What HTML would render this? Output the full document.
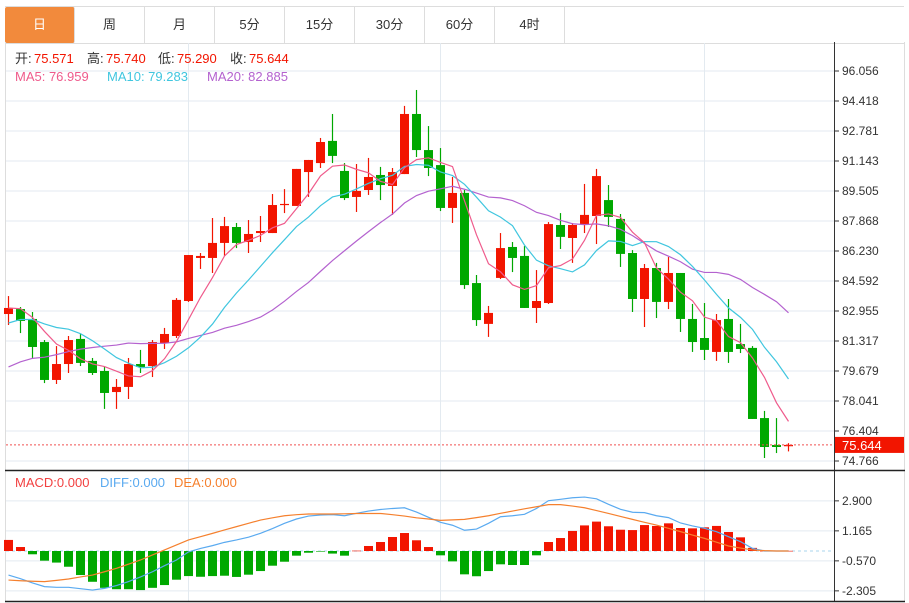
<!DOCTYPE html>
<html><head><meta charset="utf-8">
<style>
html,body{margin:0;padding:0;background:#fff;}
body{width:909px;height:603px;overflow:hidden;font-family:"Liberation Sans","Noto Sans CJK SC",sans-serif;}
.tabs{position:absolute;left:5px;top:6px;height:36px;width:899px;border-top:1px solid #ddd;border-bottom:1px solid #ddd;}
.tab{position:absolute;top:0;height:36px;width:70px;line-height:36px;text-align:center;font-size:13px;color:#333;border-right:1px solid #ddd;box-sizing:border-box;}
.tab.active{background:#f28a3c;color:#fff;border-radius:2px;}
svg{position:absolute;left:0;top:0;}
</style></head><body>
<div class="tabs">
<div class="tab active" style="left:0">日</div>
<div class="tab" style="left:70px">周</div>
<div class="tab" style="left:140px">月</div>
<div class="tab" style="left:210px">5分</div>
<div class="tab" style="left:280px">15分</div>
<div class="tab" style="left:350px">30分</div>
<div class="tab" style="left:420px">60分</div>
<div class="tab" style="left:490px">4时</div>
</div>
<svg id="chart" width="909" height="603"></svg>
<script>
const opens=[82.79,83.06,82.52,81.26,79.19,80.06,81.43,80.23,79.68,78.53,78.81,80.06,79.95,81.21,81.59,83.50,85.85,85.85,86.67,87.54,86.72,87.21,87.21,88.74,88.69,90.54,91.03,92.24,90.60,89.18,89.56,90.38,89.78,90.43,93.71,91.74,90.92,88.58,89.40,84.48,82.25,84.76,86.45,85.96,83.12,83.39,87.65,86.94,87.70,88.14,89.01,87.98,86.12,83.61,85.30,83.45,85.03,82.52,81.48,80.72,82.52,81.15,80.94,77.11,75.64,75.571];
const closes=[83.12,82.41,80.99,79.19,80.06,81.37,80.12,79.57,78.48,78.81,80.06,79.90,81.26,81.70,83.56,86.01,85.96,86.67,87.59,86.67,87.16,87.32,88.74,88.80,90.71,91.20,92.18,91.42,89.12,89.51,90.27,89.83,90.54,93.71,91.74,90.76,88.58,89.40,84.37,82.46,82.85,86.39,85.85,83.12,83.50,87.70,87.00,87.65,88.20,90.32,88.09,86.07,83.61,85.30,83.45,85.03,82.52,81.26,80.83,82.46,80.72,80.88,77.06,75.53,75.53,75.644];
const highs=[83.77,83.17,82.90,81.37,81.04,81.59,81.70,80.39,79.90,79.24,80.39,80.83,81.37,82.03,83.66,86.01,86.12,88.03,88.09,87.76,87.92,88.14,89.34,89.61,90.71,91.20,92.40,93.71,91.03,90.98,91.31,90.82,90.76,94.15,95.02,93.05,91.85,90.27,89.56,84.92,83.23,87.21,86.72,86.50,85.19,87.81,88.30,87.76,89.89,90.71,89.83,88.25,86.28,85.52,85.58,85.90,85.03,83.34,83.39,82.79,83.61,82.25,81.04,77.50,77.11,75.740];
const lows=[82.19,81.75,80.39,79.02,78.97,79.57,79.95,79.46,77.61,77.61,78.15,79.57,79.35,80.88,81.48,83.45,85.25,85.03,85.96,86.39,86.12,86.72,87.21,88.30,88.69,89.18,90.76,91.03,89.01,88.36,89.29,89.01,88.20,90.43,91.36,90.32,88.41,87.76,84.16,82.14,81.54,84.70,85.08,83.12,82.30,83.34,86.34,85.58,87.21,86.61,87.54,85.36,82.90,82.08,82.57,83.06,81.81,80.72,80.28,80.23,80.12,80.66,77.06,74.93,75.20,75.290];
const priorCloses=[76.8,77.2,77.9,77.3,78.0,77.5,77.8,77.0,77.6,77.9,80.5,81.0,81.6,82.0,82.3,82.6,83.4,83.0,83.48];
const priceTicks=[96.056,94.418,92.781,91.143,89.505,87.868,86.230,84.592,82.955,81.317,79.679,78.041,76.404,74.766];
const macdHist=[0.64,0.23,-0.19,-0.56,-0.67,-0.91,-1.39,-1.78,-2.13,-2.21,-2.21,-2.26,-2.13,-1.97,-1.66,-1.45,-1.49,-1.45,-1.43,-1.50,-1.37,-1.16,-0.85,-0.62,-0.27,-0.10,-0.01,-0.15,-0.27,0.02,0.29,0.52,0.81,1.04,0.62,0.23,-0.25,-0.60,-1.35,-1.46,-1.16,-0.77,-0.81,-0.81,-0.25,0.52,0.75,1.16,1.48,1.70,1.43,1.23,1.21,1.50,1.45,1.60,1.33,1.31,1.37,1.45,1.10,0.79,0.18,0.01,0.01,0.01];
const diffVals=[-1.39,-1.60,-1.85,-2.06,-2.10,-2.10,-2.18,-2.26,-2.16,-2.00,-1.77,-1.50,-1.20,-0.85,-0.52,-0.05,0.15,0.31,0.50,0.64,0.80,1.02,1.30,1.60,1.85,2.02,2.08,2.10,2.04,2.18,2.31,2.40,2.46,2.50,2.25,1.95,1.66,1.49,1.20,1.27,1.60,1.98,2.04,2.12,2.46,2.91,2.99,3.08,3.12,3.02,2.70,2.41,2.24,2.22,2.04,1.93,1.62,1.45,1.31,1.12,0.83,0.54,0.15,0,0,0];
const deaVals=[-1.68,-1.72,-1.75,-1.77,-1.70,-1.62,-1.50,-1.39,-1.20,-1.00,-0.76,-0.52,-0.23,0.06,0.35,0.64,0.83,1.02,1.22,1.41,1.60,1.79,1.92,2.04,2.10,2.14,2.14,2.14,2.15,2.17,2.17,2.17,2.10,2.02,1.92,1.85,1.77,1.80,1.83,1.93,2.04,2.18,2.31,2.44,2.56,2.68,2.68,2.60,2.50,2.34,2.17,2.00,1.83,1.66,1.50,1.31,1.12,0.92,0.73,0.51,0.29,0.17,0.06,0.02,0,0];
const macdTicks=[2.900,1.165,-0.570,-2.305];

const svg=document.getElementById('chart');
const NS='http://www.w3.org/2000/svg';
function mk(tag,attrs,parent){const e=document.createElementNS(NS,tag);for(const k in attrs)e.setAttribute(k,attrs[k]);(parent||svg).appendChild(e);return e;}
const L=6,R=834;
const xOf=i=>8.5+12*i;
const yP=p=>71+(96.056-p)*(390/(96.056-74.766));
const yM=v=>551-v*(30/1.735);

// grid
const grid=mk('g',{});


priceTicks.forEach(t=>{mk('line',{x1:L,x2:R,y1:yP(t),y2:yP(t),stroke:'#e3eaf0','stroke-width':1},grid);});
macdTicks.forEach(t=>{mk('line',{x1:L,x2:R,y1:yM(t),y2:yM(t),stroke:'#e3eaf0','stroke-width':1},grid);});
[188.5,440.5,704.5].forEach(x=>{mk('line',{x1:x,x2:x,y1:43,y2:601,stroke:'#e3eaf0','stroke-width':1},grid);});
// frame
mk('line',{x1:5.5,x2:5.5,y1:42,y2:601,stroke:'#ddd'});
mk('line',{x1:904.5,x2:904.5,y1:42,y2:601,stroke:'#ddd'});
mk('line',{x1:834.5,x2:834.5,y1:42,y2:601,stroke:'#333'});
mk('line',{x1:5,x2:905,y1:470.5,y2:470.5,stroke:'#222','stroke-width':1.5});
mk('line',{x1:5,x2:905,y1:601.5,y2:601.5,stroke:'#222','stroke-width':1.5});

// price axis
const axis=mk('g',{'font-size':12,fill:'#333','font-family':'Liberation Sans, sans-serif'});


priceTicks.forEach(t=>{const y=yP(t);mk('line',{x1:834,x2:839,y1:y,y2:y,stroke:'#333'},axis);const tx=mk('text',{x:842,y:y+4},axis);tx.textContent=t.toFixed(3);});
const maxis=mk('g',{'font-size':12,fill:'#333','font-family':'Liberation Sans, sans-serif'});


macdTicks.forEach(t=>{const y=yM(t);mk('line',{x1:834,x2:839,y1:y,y2:y,stroke:'#333'},maxis);const tx=mk('text',{x:842,y:y+4},maxis);tx.textContent=t.toFixed(3);});

// MA
const allC=priorCloses.concat(closes);
function ma(n){const out=[];for(let i=0;i<closes.length;i++){const j=i+priorCloses.length;let s=0;for(let k=j-n+1;k<=j;k++)s+=allC[k];out.push(s/n);}return out;}
function line(vals,yf,color,name){const p=mk('polyline',{points:vals.map((v,i)=>xOf(i)+','+yf(v)).join(' '),fill:'none',stroke:color,'stroke-width':1.2});}

// candles
const cg=mk('g',{});


for(let i=0;i<closes.length;i++){
  const up=closes[i]>=opens[i];const col=up?'#f21500':'#00a800';const x=xOf(i);
  mk('line',{x1:x,x2:x,y1:yP(highs[i]),y2:yP(lows[i]),stroke:col,'stroke-width':1.2},cg);
  const top=yP(Math.max(opens[i],closes[i])),bot=yP(Math.min(opens[i],closes[i]));
  const r=mk('rect',{x:x-4.5,y:top,width:9,height:Math.max(1.2,bot-top),fill:col},cg);
  
  
}
line(ma(20),yP,'#b462cf','ma20-line');
line(ma10=ma(10),yP,'#40c6df','ma10-line');
line(ma(5),yP,'#ef5b8c','ma5-line');

// last price line
const lastY=yP(closes[closes.length-1]);
mk('line',{x1:L,x2:R,y1:lastY,y2:lastY,stroke:'#f05050','stroke-width':1,'stroke-dasharray':'2,2'});
const lb=mk('rect',{x:835,y:lastY-8,width:69,height:16,fill:'#f21500'});


const lt=mk('text',{x:842,y:lastY+5,fill:'#fff','font-size':13});lt.textContent=closes[closes.length-1].toFixed(3);

// MACD
mk('line',{x1:L,x2:R,y1:yM(0),y2:yM(0),stroke:'#a8d4ec','stroke-width':1,'stroke-dasharray':'3,3'});
const hg=mk('g',{});


macdHist.forEach((v,i)=>{const y0=yM(0),y1=yM(v);const r=mk('rect',{x:xOf(i)-4.5,y:Math.min(y0,y1),width:9,height:Math.max(0.6,Math.abs(y1-y0)),fill:v>=0?'#f21500':'#00a800'},hg);});
line(diffVals,yM,'#5aaaf0','diff-line');
line(deaVals,yM,'#f5802e','dea-line');

// legends
function txt(x,y,s,color,name){const t=mk('text',{x:x,y:y,fill:color,'font-size':13});t.textContent=s;return t;}
txt(15,63,'开:','#333','open-label');txt(34,63,'75.571','#f21500','open-value');
txt(87,63,'高:','#333','high-label');txt(106,63,'75.740','#f21500','high-value');
txt(158,63,'低:','#333','low-label');txt(177,63,'75.290','#f21500','low-value');
txt(230,63,'收:','#333','close-label');txt(249,63,'75.644','#f21500','close-value');
txt(15,81,'MA5: 76.959','#ef5b8c','ma5-legend');
txt(107,81,'MA10: 79.283','#40c6df','ma10-legend');
txt(207,81,'MA20: 82.885','#b462cf','ma20-legend');
txt(15,487,'MACD:0.000','#f24040','macd-legend');
txt(100,487,'DIFF:0.000','#5aaaf0','diff-legend');
txt(174,487,'DEA:0.000','#f5802e','dea-legend');
</script>
</body></html>
